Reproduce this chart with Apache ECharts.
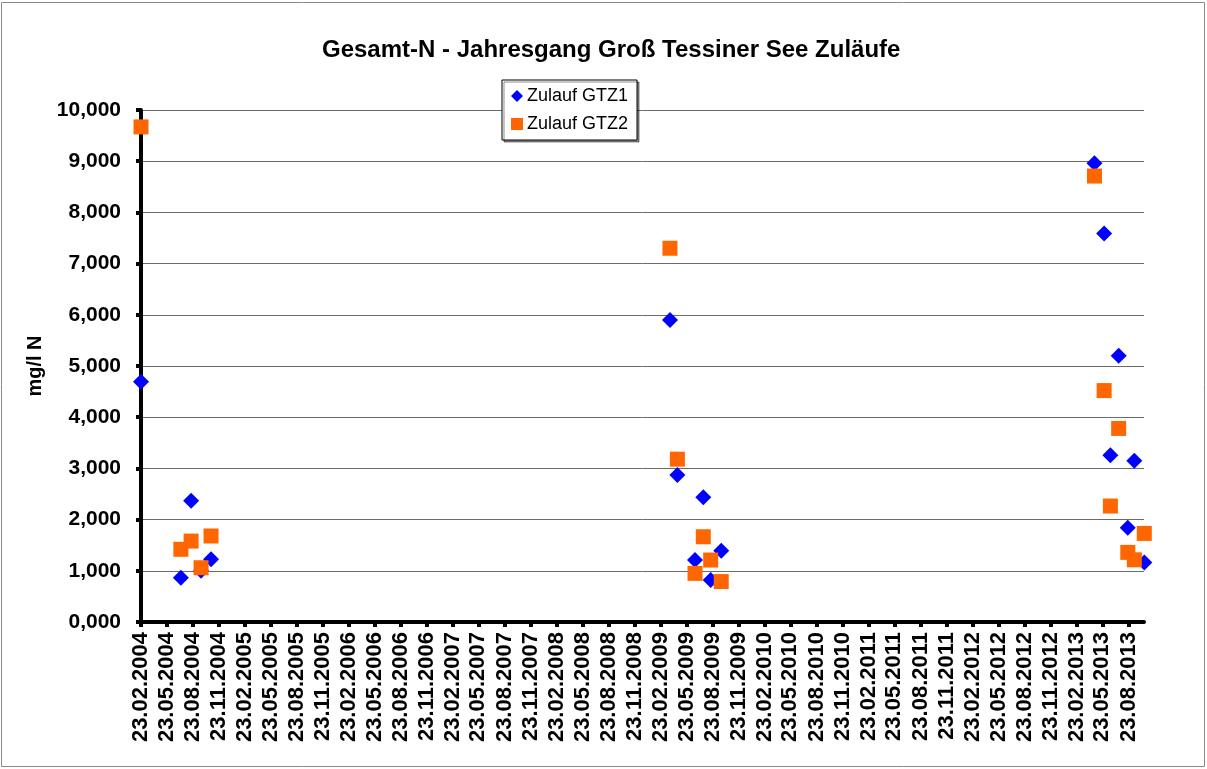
<!DOCTYPE html>
<html>
<head>
<meta charset="utf-8">
<script src="https://cdn.jsdelivr.net/npm/echarts@6/dist/echarts.min.js"></script>
<style>
  html, body { margin: 0; padding: 0; background: #fff; }
  #chart { width: 1207px; height: 769px; }
</style>
</head>
<body>
<div id="chart"></div>
<script>
// ---- Data ----
const titleText = 'Gesamt-N - Jahresgang Groß Tessiner See Zuläufe';
const yAxisName = 'mg/l N';
const seriesNames = ['Zulauf GTZ1', 'Zulauf GTZ2'];

// sampling dates (shared by both inflows)
const sampleDates = [
  '2004-02-23', '2004-07-12', '2004-08-17', '2004-09-21', '2004-10-26',
  '2009-03-26', '2009-04-21', '2009-06-22', '2009-07-21', '2009-08-16', '2009-09-22',
  '2013-04-25', '2013-05-29', '2013-06-20', '2013-07-19', '2013-08-20', '2013-09-12', '2013-10-17'
];
// Gesamt-N in mg/l
const valuesGTZ1 = [4.69, 0.865, 2.37, 1.00, 1.225, 5.90, 2.87, 1.21, 2.435, 0.82, 1.39, 8.96, 7.59, 3.255, 5.20, 1.84, 3.15, 1.16];
const valuesGTZ2 = [9.67, 1.42, 1.58, 1.06, 1.68, 7.30, 3.18, 0.95, 1.665, 1.21, 0.79, 8.71, 4.52, 2.265, 3.78, 1.36, 1.215, 1.73];

// x-axis tick labels
const xTickLabels = [
  '23.02.2004', '23.05.2004', '23.08.2004', '23.11.2004',
  '23.02.2005', '23.05.2005', '23.08.2005', '23.11.2005',
  '23.02.2006', '23.05.2006', '23.08.2006', '23.11.2006',
  '23.02.2007', '23.05.2007', '23.08.2007', '23.11.2007',
  '23.02.2008', '23.05.2008', '23.08.2008', '23.11.2008',
  '23.02.2009', '23.05.2009', '23.08.2009', '23.11.2009',
  '23.02.2010', '23.05.2010', '23.08.2010', '23.11.2010',
  '23.02.2011', '23.05.2011', '23.08.2011', '23.11.2011',
  '23.02.2012', '23.05.2012', '23.08.2012', '23.11.2012',
  '23.02.2013', '23.05.2013', '23.08.2013'
];
const xMinDate = '2004-02-23';
const xMaxDate = '2013-10-16';

// ---- helpers ----
function isoToTs(s) { const p = s.split('-'); return Date.UTC(+p[0], +p[1] - 1, +p[2]); }
function deToTs(s) { const p = s.split('.'); return Date.UTC(+p[2], +p[1] - 1, +p[0]); }
function pad(n) { return (n < 10 ? '0' : '') + n; }
function fmtDate(v) {
  const d = new Date(v);
  return pad(d.getUTCDate()) + '.' + pad(d.getUTCMonth() + 1) + '.' + d.getUTCFullYear();
}
const tickTs = xTickLabels.map(deToTs);
const dataGTZ1 = sampleDates.map((d, i) => [isoToTs(d), valuesGTZ1[i]]);
const dataGTZ2 = sampleDates.map((d, i) => [isoToTs(d), valuesGTZ2[i]]);

const FONT = "'Liberation Sans', Arial, sans-serif";

const chart = echarts.init(document.getElementById('chart'), null, { renderer: 'canvas' });
chart.setOption({
  animation: false,
  backgroundColor: '#ffffff',
  textStyle: { fontFamily: FONT },
  title: {
    text: titleText,
    left: 317,
    top: 33,
    textStyle: { fontFamily: FONT, fontSize: 24, fontWeight: 'bold', color: '#000' }
  },
  legend: {
    orient: 'vertical',
    left: 502,
    top: 80,
    padding: [7, 9, 7, 9],
    itemGap: 10,
    itemWidth: 12,
    itemHeight: 12,
    borderColor: '#000',
    borderWidth: 1,
    backgroundColor: '#fff',
    shadowColor: 'rgba(0,0,0,0.45)',
    shadowBlur: 0,
    shadowOffsetX: 2,
    shadowOffsetY: 2,
    textStyle: { fontFamily: FONT, fontSize: 18, color: '#000', padding: [0, 0, 0, -1] },
    data: [
      { name: seriesNames[0], icon: 'diamond', itemStyle: { color: '#0000ff', opacity: 1 } },
      { name: seriesNames[1], icon: 'rect', itemStyle: { color: '#ff6600', opacity: 1 } }
    ]
  },
  graphic: [{
    type: 'rect',
    silent: true,
    shape: { x: 1.5, y: 2.5, width: 1203, height: 764 },
    style: { fill: 'none', stroke: '#8a8a8a', lineWidth: 1 },
    z: -1
  }],
  grid: { left: 141, right: 63, top: 110, bottom: 147, containLabel: false },
  xAxis: {
    type: 'value',
    min: isoToTs(xMinDate),
    max: isoToTs(xMaxDate),
    axisLine: { show: true, lineStyle: { color: '#000', width: 4 } },
    axisTick: { show: true, customValues: tickTs, length: 5, lineStyle: { color: '#000', width: 4 } },
    axisLabel: {
      customValues: tickTs,
      rotate: 90,
      margin: 10,
      formatter: fmtDate,
      fontFamily: FONT, fontSize: 22, fontWeight: 'bold', color: '#000'
    },
    splitLine: { show: false }
  },
  yAxis: {
    type: 'value',
    min: 0,
    max: 10,
    interval: 1,
    name: yAxisName,
    nameLocation: 'middle',
    nameRotate: 90,
    nameGap: 96,
    nameTextStyle: { fontFamily: FONT, fontSize: 20, fontWeight: 'bold', color: '#000' },
    axisLine: { show: true, lineStyle: { color: '#000', width: 4 } },
    axisTick: { show: true, length: 5, lineStyle: { color: '#000', width: 4 } },
    axisLabel: {
      margin: 20,
      formatter: v => v.toFixed(3).replace('.', ','),
      fontFamily: FONT, fontSize: 21, fontWeight: 'bold', color: '#000'
    },
    splitLine: { show: true, lineStyle: { color: '#6a6a6a', width: 1 } }
  },
  series: [
    {
      name: seriesNames[0],
      type: 'scatter',
      symbol: 'diamond',
      symbolSize: 16,
      clip: false,
      itemStyle: { color: '#0000ff', opacity: 1 },
      data: dataGTZ1,
      z: 3
    },
    {
      name: seriesNames[1],
      type: 'scatter',
      symbol: 'rect',
      symbolSize: 15,
      clip: false,
      itemStyle: { color: '#ff6600', opacity: 1 },
      data: dataGTZ2,
      z: 4
    }
  ]
});
</script>
</body>
</html>
